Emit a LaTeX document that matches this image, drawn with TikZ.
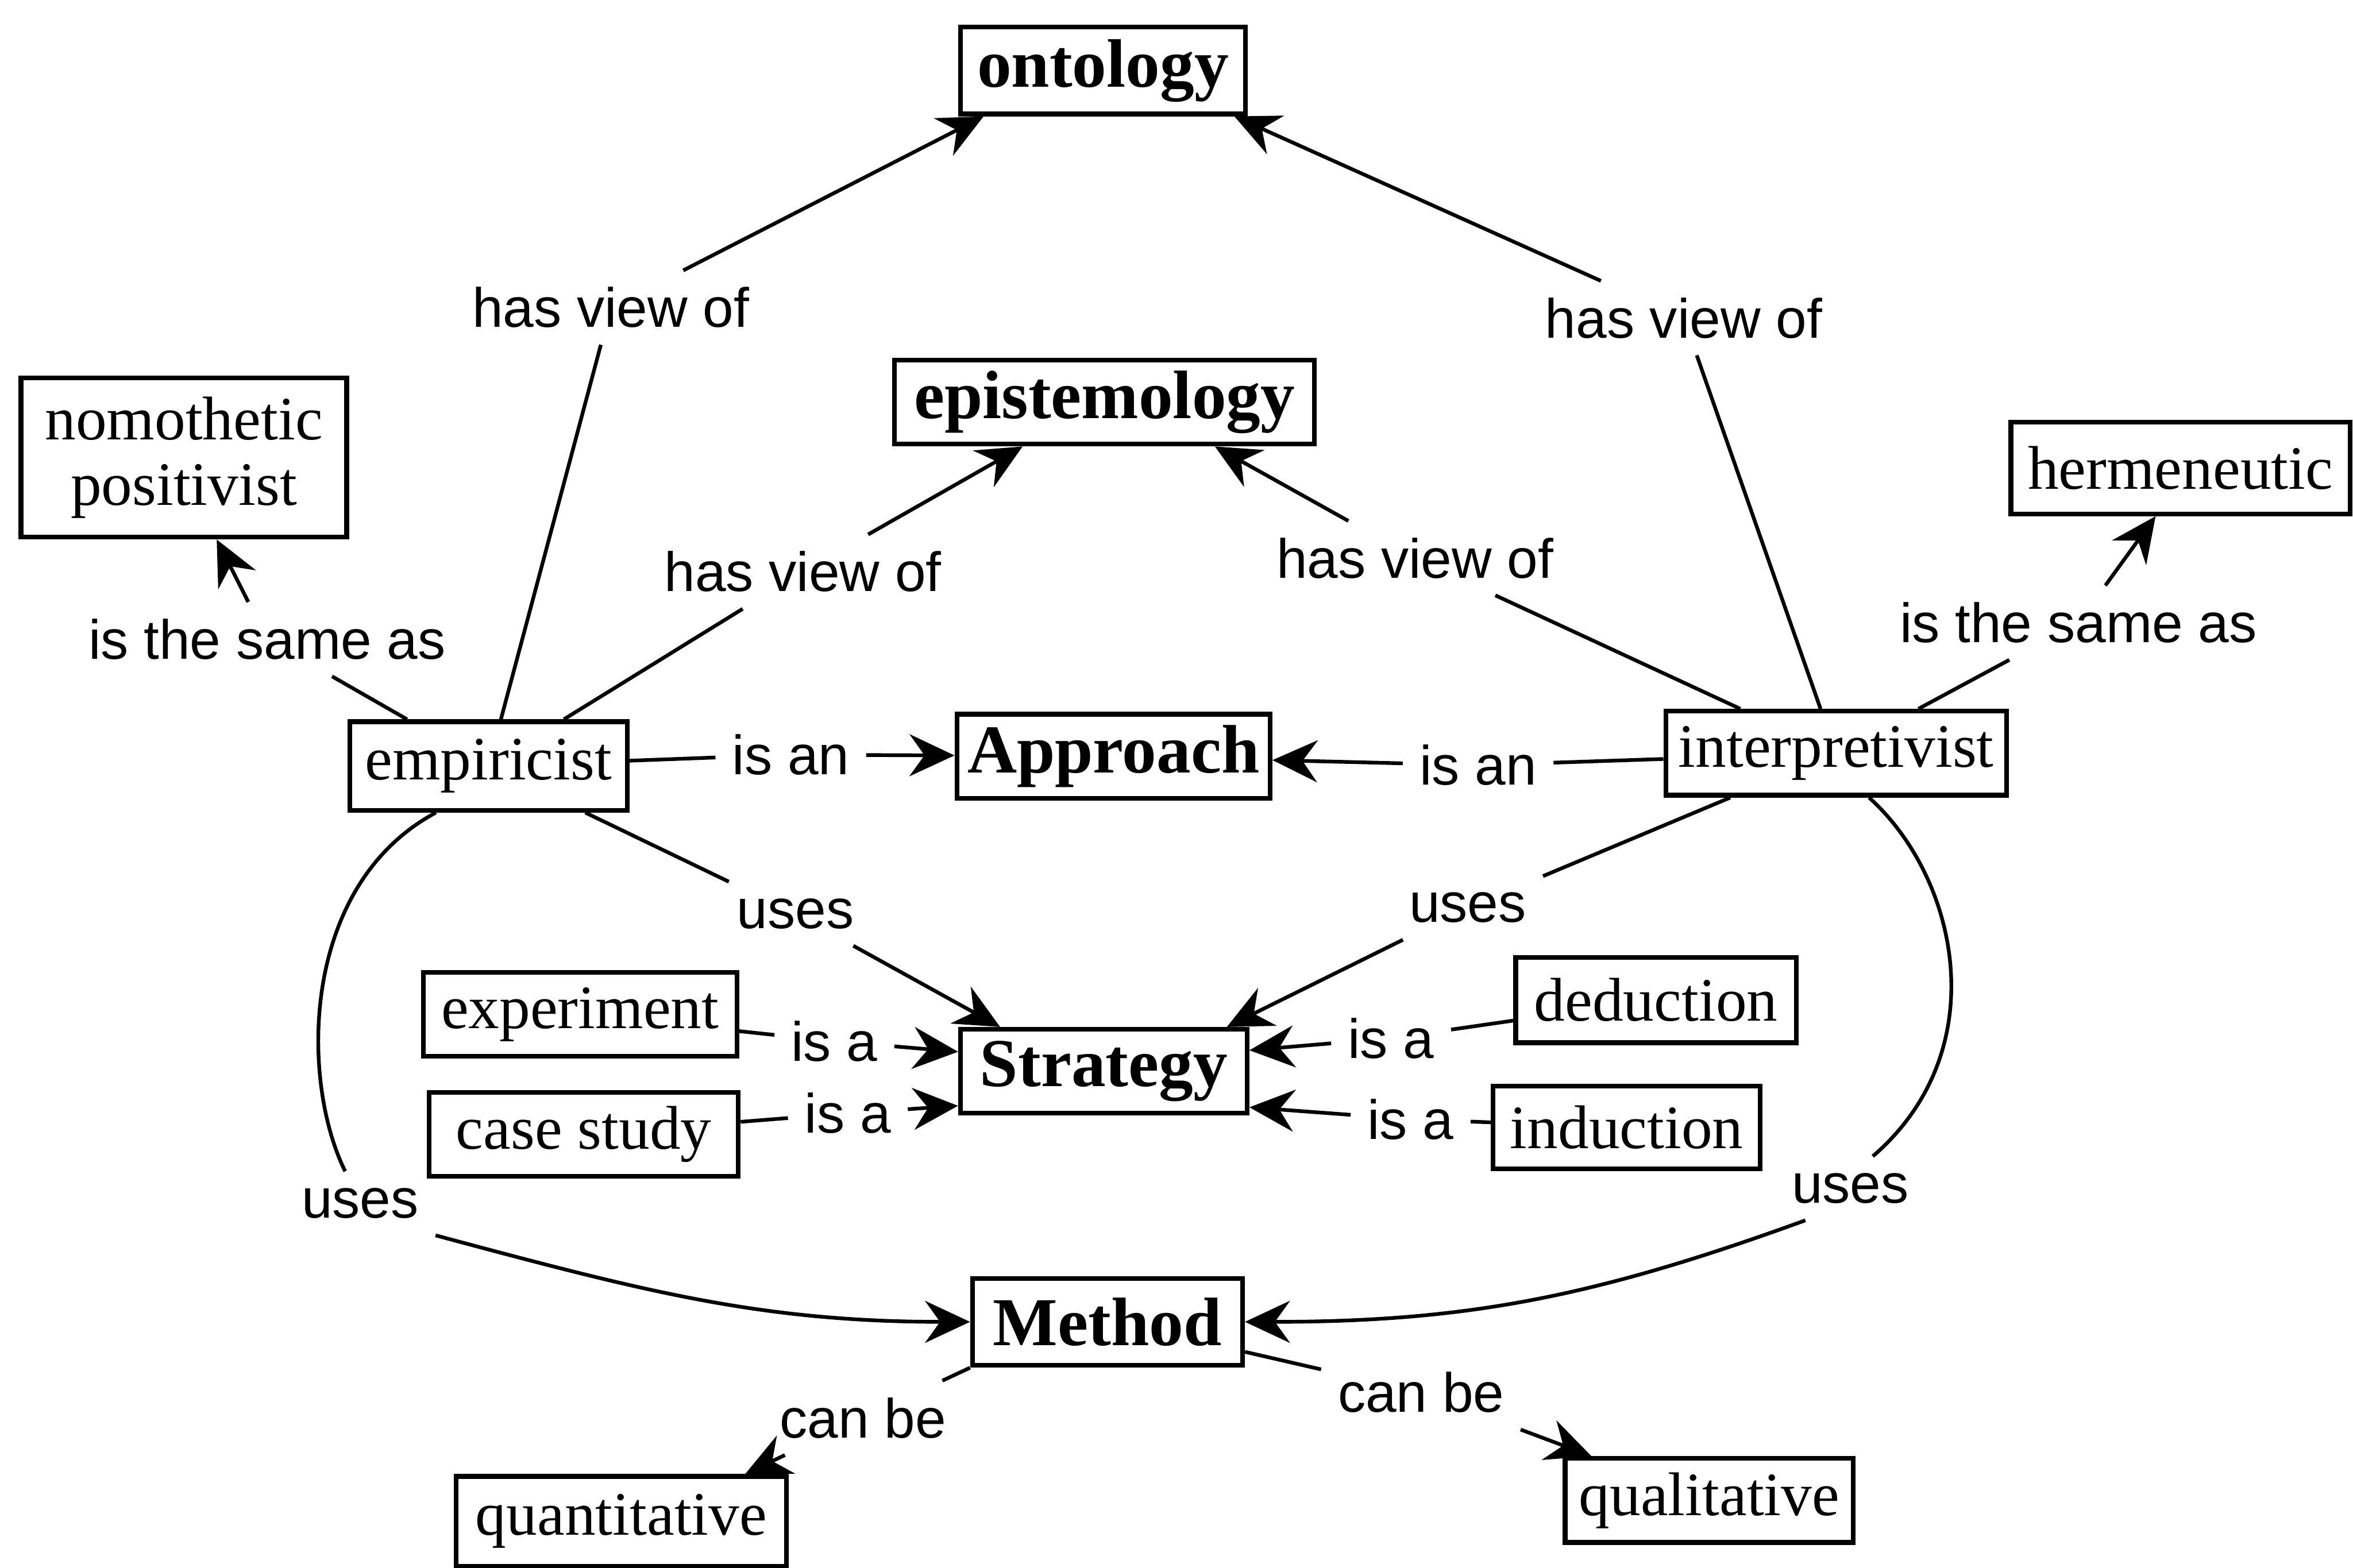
\documentclass[tikz,border=0pt]{standalone}
\usepackage{fontspec}
\setmainfont{Liberation Serif}
\newfontfamily\linkfont{Liberation Sans}
\usetikzlibrary{arrows.meta}

\tikzset{
  concept/.style={draw, line width=0.9pt, inner sep=2pt, align=center,
    font=\fontsize{11.7}{12.5}\selectfont},
  keyconcept/.style={concept, font=\bfseries\fontsize{13}{15}\selectfont},
  linklabel/.style={inner sep=3pt, font=\linkfont\fontsize{10.5}{12}\selectfont},
  link/.style={line width=0.7pt},
  linkarrow/.style={link, -{Stealth[length=3mm,width=2.8mm,inset=1mm]}},
}

\begin{document}
\begin{tikzpicture}
  \useasboundingbox (0,0) rectangle (15.68,-10.45);
  % concepts
  \node[keyconcept, minimum width=1.90cm, minimum height=0.58cm] (ontology) at (7.35,-0.47) {ontology};
  \node[keyconcept, minimum width=2.80cm, minimum height=0.56cm] (epistemology) at (7.36,-2.68) {epistemology};
  \node[concept, minimum width=2.17cm, minimum height=1.06cm] (nomothetic) at (1.225,-3.05) {nomothetic\\positivist};
  \node[concept, minimum width=2.26cm, minimum height=0.61cm] (hermeneutic) at (14.53,-3.12) {hermeneutic};
  \node[concept, minimum width=1.85cm, minimum height=0.59cm] (empiricist) at (3.255,-5.105) {empiricist};
  \node[keyconcept, minimum width=2.08cm, minimum height=0.56cm] (approach) at (7.42,-5.04) {Approach};
  \node[concept, minimum width=2.27cm, minimum height=0.56cm] (interpretivist) at (12.235,-5.02) {interpretivist};
  \node[concept, minimum width=2.09cm, minimum height=0.56cm] (experiment) at (3.865,-6.76) {experiment};
  \node[keyconcept, minimum width=1.91cm, minimum height=0.56cm] (strategy) at (7.355,-7.14) {Strategy};
  \node[concept, minimum width=1.87cm, minimum height=0.57cm] (deduction) at (11.035,-6.665) {deduction};
  \node[concept, minimum width=2.06cm, minimum height=0.56cm] (casestudy) at (3.89,-7.56) {case study};
  \node[concept, minimum width=1.78cm, minimum height=0.55cm] (induction) at (10.84,-7.515) {induction};
  \node[keyconcept, minimum width=1.80cm, minimum height=0.58cm] (method) at (7.38,-8.81) {Method};
  \node[concept, minimum width=2.20cm, minimum height=0.60cm] (quantitative) at (4.14,-10.14) {quantitative};
  \node[concept, minimum width=1.92cm, minimum height=0.56cm] (qualitative) at (11.39,-10.00) {qualitative};

  % link labels
  \node[linklabel] (hv1) at (4.07,-2.05) {has view of};
  \node[linklabel] (hv2) at (11.22,-2.12) {has view of};
  \node[linklabel] (hv3) at (5.35,-3.81) {has view of};
  \node[linklabel] (hv4) at (9.43,-3.72) {has view of};
  \node[linklabel] (same1) at (1.78,-4.26) {is the same as};
  \node[linklabel] (same2) at (13.85,-4.15) {is the same as};
  \node[linklabel] (isan1) at (5.27,-5.03) {is an};
  \node[linklabel] (isan2) at (9.85,-5.10) {is an};
  \node[linklabel] (uses1) at (5.30,-6.09) {uses};
  \node[linklabel] (uses2) at (9.78,-6.05) {uses};
  \node[linklabel] (isa1) at (5.56,-6.94) {is a};
  \node[linklabel] (isa2) at (5.65,-7.42) {is a};
  \node[linklabel] (isa3) at (9.27,-6.92) {is a};
  \node[linklabel] (isa4) at (9.40,-7.46) {is a};
  \node[linklabel] (uses3) at (2.40,-8.02) {uses};
  \node[linklabel] (uses4) at (12.33,-7.92) {uses};
  \node[linklabel] (canbe1) at (5.75,-9.45) {can be};
  \node[linklabel] (canbe2) at (9.47,-9.28) {can be};

  % has view of
  \draw[link] (empiricist) -- (hv1);
  \draw[linkarrow] (hv1) -- ([xshift=1.7mm]ontology.south west);
  \draw[link] (interpretivist) -- (hv2);
  \draw[linkarrow] (hv2) -- ([xshift=-0.9mm]ontology.south east);
  \draw[link] (empiricist) -- (hv3);
  \draw[linkarrow] (hv3) -- ([xshift=8.7mm]epistemology.south west);
  \draw[link] (interpretivist) -- (hv4);
  \draw[linkarrow] (hv4) -- ([xshift=-6.8mm]epistemology.south east);
  % is the same as
  \draw[link] (empiricist) -- (same1);
  \draw[linkarrow] (same1) -- ([xshift=13.2mm]nomothetic.south west);
  \draw[link] (interpretivist) -- (same2);
  \draw[linkarrow] (same2) -- ([xshift=9.8mm]hermeneutic.south west);
  % is an
  \draw[link] (empiricist) -- (isan1);
  \draw[linkarrow] (isan1) -- (approach);
  \draw[link] (interpretivist) -- (isan2);
  \draw[linkarrow] (isan2) -- (approach);
  % uses (strategy)
  \draw[link] (empiricist) -- (uses1);
  \draw[linkarrow] (uses1) -- ([xshift=2.8mm]strategy.north west);
  \draw[link] (interpretivist) -- (uses2);
  \draw[linkarrow] (uses2) -- ([xshift=-1.5mm]strategy.north east);
  % is a
  \draw[link] (experiment) -- (isa1);
  \draw[linkarrow] (isa1) -- ([yshift=1.3mm]strategy.west);
  \draw[link] (casestudy) -- (isa2);
  \draw[linkarrow] (isa2) -- ([yshift=-2.3mm]strategy.west);
  \draw[link] (deduction) -- (isa3);
  \draw[linkarrow] (isa3) -- ([yshift=1.4mm]strategy.east);
  \draw[link] (induction) -- (isa4);
  \draw[linkarrow] (isa4) -- ([yshift=-2.4mm]strategy.east);
  % uses (method)
  \draw[link] ([xshift=-3.5mm]empiricist.south) .. controls (2.0,-5.9) and (2.0,-7.2) .. ([xshift=-1mm]uses3.north);
  \draw[linkarrow] (uses3.south east) to[out=-15, in=180] (method.west);
  \draw[link] ([xshift=2.2mm]interpretivist.south) .. controls (13.05,-5.85) and (13.3,-7.0) .. ([xshift=1.5mm]uses4.north);
  \draw[linkarrow] ([xshift=-3mm]uses4.south) to[out=200, in=0] (method.east);
  % can be
  \draw[link] (method.south west) -- (canbe1);
  \draw[linkarrow] (canbe1) -- ([xshift=-2.9mm]quantitative.north east);
  \draw[link] ([yshift=-2mm]method.east) -- (canbe2);
  \draw[linkarrow] (canbe2) -- ([xshift=1.9mm]qualitative.north west);
\end{tikzpicture}
\end{document}
